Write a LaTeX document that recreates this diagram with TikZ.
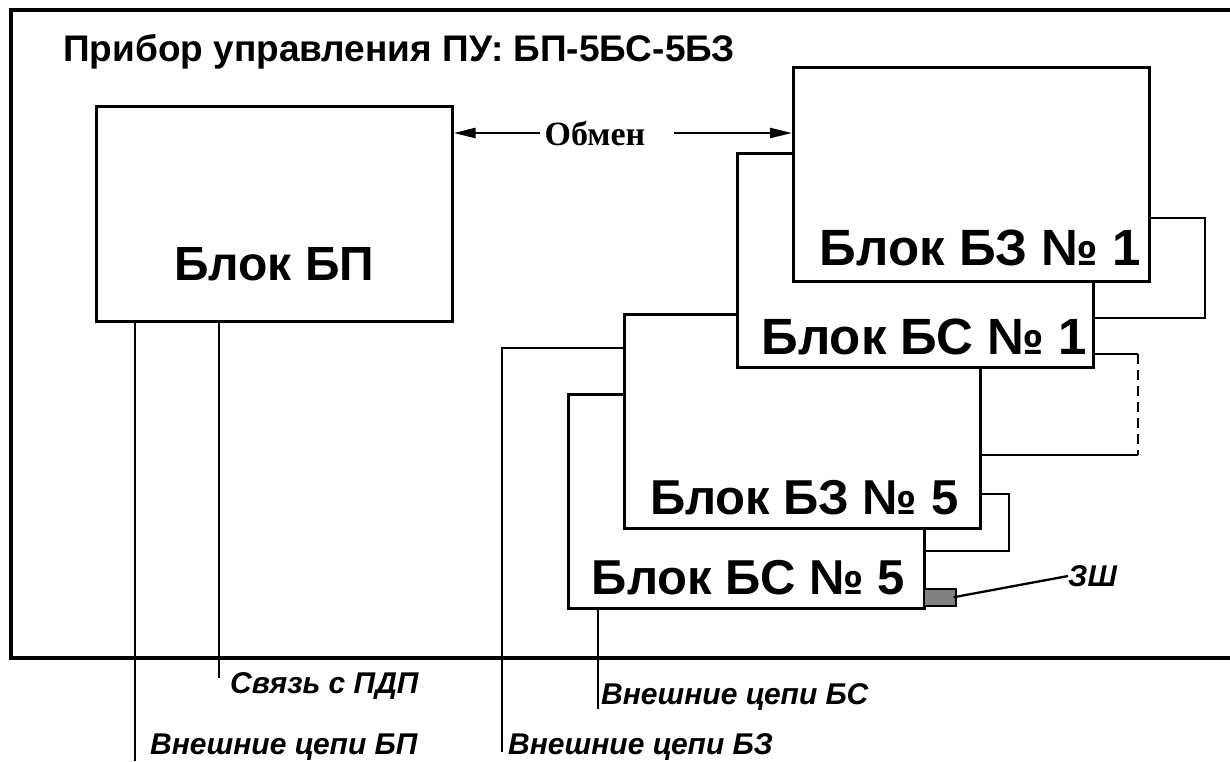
\documentclass[tikz,border=0pt]{standalone}
\usepackage{fontspec}
\setmainfont{Liberation Sans}
\newfontfamily\timesfont{Liberation Serif}
\usepackage{tikz}
\usetikzlibrary{arrows.meta,positioning,calc}

\begin{document}
\begin{tikzpicture}[x=1pt, y=-1pt,
    blk/.style={rectangle, draw, line width=2.6pt, fill=white, anchor=north west, inner sep=0pt, minimum width=356pt, minimum height=214pt},
    lbl/.style={font=\fontsize{49}{54}\selectfont\bfseries, inner sep=0pt},
    ital/.style={font=\fontsize{30}{34}\selectfont\bfseries\itshape, inner sep=0pt, anchor=west},
    wire/.style={line width=2.3pt},
    arrow/.style={line width=2.3pt, -{Triangle[length=22pt,width=10pt]}}
]
\useasboundingbox (0,0) rectangle (1230,761);
\fill[white] (0,0) rectangle (1230,761);

% Frame and title
\draw[line width=4pt] (1240,10) -- (11,10) -- (11,658) -- (1240,658);
\node[font=\fontsize{37}{42}\selectfont\bfseries, anchor=west, inner sep=0pt] (title) at (63,52) {Прибор управления ПУ: БП-5БС-5БЗ};

% External lines
\coordinate (bpend) at (135,761);
\coordinate (pdpend) at (219,678);
\coordinate (bzend) at (502,752);
\coordinate (bsend) at (598,709);

% Blocks
\node[blk, minimum height=215pt] (bp) at (95,105) {};
\node[blk] (bs5) at (567,393) {};
\node[blk] (bz5) at (623,313) {};
\node[blk] (bs1) at (736,152) {};
\node[blk] (bz1) at (792,66) {};

\node[lbl, font=\fontsize{48}{52}\selectfont\bfseries] (bpt) at ([yshift=58pt]bp.south) {Блок БП};
\node[lbl, font=\fontsize{51}{56}\selectfont\bfseries] (bz1t) at ([xshift=9pt, yshift=35pt]bz1.south) {Блок БЗ № 1};
\node[lbl, font=\fontsize{51}{56}\selectfont\bfseries] (bs1t) at ([xshift=9pt, yshift=32pt]bs1.south) {Блок БС № 1};
\node[lbl] (bz5t) at ([xshift=2pt, yshift=32pt]bz5.south) {Блок БЗ № 5};
\node[lbl] (bs5t) at ([xshift=2pt, yshift=32pt]bs5.south) {Блок БС № 5};

% Exchange
\node[font=\timesfont\fontsize{34}{40}\selectfont\bfseries, inner sep=0pt] (obmen) at (595,133) {Обмен};
\draw[arrow] ([xshift=-5pt]obmen.west) -- (obmen.west -| bp.east);
\draw[arrow] ([xshift=28pt]obmen.east) -- (obmen.east -| bz1.west);

% Links between blocks
\coordinate (d1) at (1138,354);
\coordinate (d2) at (1138,455);
\draw[wire] (bz1.east |- 0,218) -| (1205,318) -- (bs1.east |- 0,318);
\draw[wire] (bs1.east |- d1) -- (d1);
\draw[wire, dash pattern=on 10pt off 6pt] (d1) -- (d2);
\draw[wire] (d2) -- (bz5.east |- d2);
\draw[wire] (bz5.east |- 0,494) -| (1009,551) -- (bs5.east |- 0,551);

% Terminal
\node[draw, line width=1.5pt, fill=gray, anchor=north west, inner sep=0pt, minimum width=32pt, minimum height=17pt] (zsh) at (923,588) {};
\node[ital] (zshl) at (1068,576) {ЗШ};
\draw[wire] ([xshift=-3pt]zsh.east) -- (zshl.west);

% Outputs
\draw[wire] (bp.south -| bpend) -- (bpend);
\node[ital] (bpext) at (150,747) {Внешние цепи БП};
\draw[wire] (bp.south -| pdpend) -- (pdpend);
\node[ital] (pdp) at (230,686) {Связь с ПДП};
\draw[wire] (bz5.west |- 0,348) -| (bzend);
\node[ital] (bzext) at (508,747) {Внешние цепи БЗ};
\draw[wire] (bs5.south -| bsend) -- (bsend);
\node[ital] (bsext) at (601,697) {Внешние цепи БС};

\end{tikzpicture}
\end{document}
